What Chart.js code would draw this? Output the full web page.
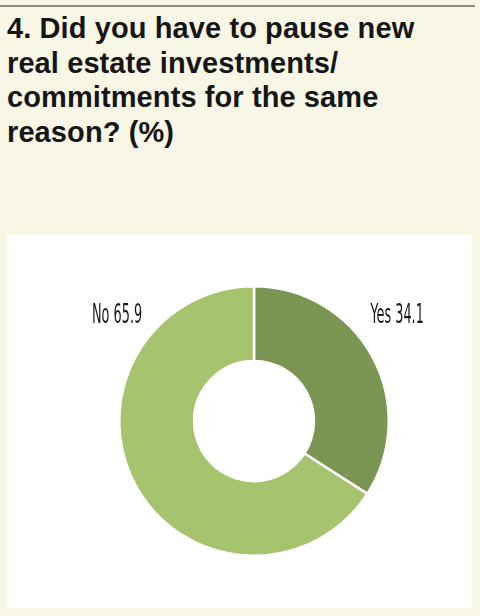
<!DOCTYPE html>
<html>
<head>
<meta charset="utf-8">
<script src="https://cdn.jsdelivr.net/npm/chart.js@4"></script>
<style>
  html, body { margin: 0; padding: 0; }
  body { width: 480px; height: 616px; background: #f8f7e6; position: relative; overflow: hidden; }
  .rule { position: absolute; left: 0; top: 5px; width: 475px; height: 2px; background: #8f8d7a; }
  h1 {
    position: absolute; left: 7px; top: 11px; margin: 0; width: 470px;
    font: bold 29px "Liberation Sans", Arial, sans-serif; line-height: 34.5px;
    color: #161616; letter-spacing: 0.1px;
  }
  .panel { position: absolute; left: 7px; top: 235px; width: 465px; height: 373px; background: #fff; }
</style>
</head>
<body>
<div class="rule"></div>
<h1>4. Did you have to pause new<br>real estate investments/<br>commitments for the same<br>reason? (%)</h1>
<div class="panel"><canvas id="chartPausa" width="465" height="373"></canvas></div>

<script>
// Dados do gráfico
const categorias = ['Yes', 'No'];
const valores = [34.1, 65.9];
const cores = ['#7a9652', '#a6c46e'];

// Rótulos "Yes 34.1" / "No 65.9" desenhados junto ao anel
const rotulosPlugin = {
    id: 'rotulos',
    afterDatasetsDraw(chart) {
        const ctx = chart.ctx;
        const arcs = chart.getDatasetMeta(0).data;
        ctx.save();
        ctx.font = '26px "Liberation Sans Narrow", "DejaVu Sans Condensed", sans-serif';
        ctx.fillStyle = '#1a1a1a';
        ctx.textBaseline = 'alphabetic';
        arcs.forEach((arc, i) => {
            const p = arc.getProps(['x', 'y', 'startAngle', 'endAngle', 'outerRadius'], true);
            const meio = (p.startAngle + p.endAngle) / 2;
            const direita = Math.cos(meio) > 0;
            const texto = categorias[i] + ' ' + valores[i];
            const y = p.y - p.outerRadius * 0.73;
            const escala = 0.55;
            const largura = ctx.measureText(texto).width * escala;
            const x = direita ? p.x + p.outerRadius * 0.865 : p.x - p.outerRadius * 0.83 - largura;
            ctx.save();
            ctx.translate(x, y);
            ctx.scale(escala, 1);
            ctx.fillText(texto, 0, 0);
            ctx.restore();
        });
        ctx.restore();
    }
};

new Chart(document.getElementById('chartPausa'), {
    type: 'doughnut',
    data: {
        labels: categorias,
        datasets: [{
            data: valores,
            backgroundColor: cores,
            borderColor: '#ffffff',
            borderWidth: 2.5,
            hoverOffset: 0
        }]
    },
    options: {
        responsive: false,
        animation: false,
        cutout: '44.5%',
        layout: { padding: { top: 50, bottom: 51, left: 111, right: 82 } },
        plugins: {
            legend: { display: false },
            tooltip: { enabled: false }
        }
    },
    plugins: [rotulosPlugin]
});
</script>
</body>
</html>
